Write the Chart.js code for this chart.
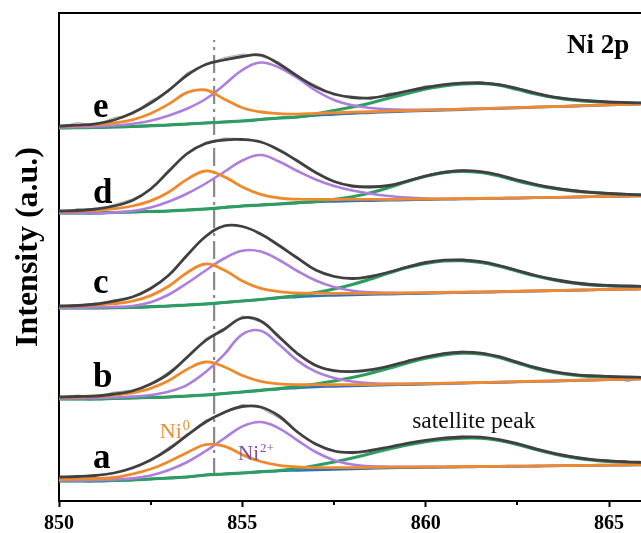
<!DOCTYPE html>
<html>
<head>
<meta charset="utf-8">
<script src="https://cdn.jsdelivr.net/npm/chart.js@4.4.0/dist/chart.umd.min.js"></script>
<style>
html,body{margin:0;padding:0;background:#fff;overflow:hidden;}
canvas{display:block;}
</style>
</head>
<body>
<canvas id="c" width="641" height="533"></canvas>
<script>
// Binding energy (eV)
const energy = [850,850.5,851,851.5,852,852.5,853,853.5,854,854.5,855,855.5,856,856.5,857,857.5,858,858.5,859,859.5,860,860.5,861,861.5,862,862.5,863,863.5,864,864.5,865,865.5,866];

// Sample a
const rawA = [22,25,26,27.5,34,40,54,65,81,87.5,96.5,93,83,70,56,51,47,51.5,53,58.7,59.7,63.8,65,62.8,62.4,56.4,53,46.7,45,41,41,38.5,39.5];
const fitA = [24,24.5,25.5,28,33,41,52,66,79,88.5,94.5,94,85,69,57,50,48.5,50.5,54,57.7,60.7,62.8,64,63.8,61.4,57.4,52.2,47.7,44.2,41.7,40.2,39.2,38.5];
const ni0A = [21.5,22,22.5,23.5,27,32,39.5,48.5,56.4,54.9,46.3,39.5,35.7,34.1,33.4,33.3,33.4,33.6,33.9,33.9,34,34.1,34.4,34.6,34.7,34.9,35,35.3,35.5,35.7,35.9,36.1,36.3];
const ni2A = [20.5,20.6,20.8,21.6,22.6,25.5,31,39,50,62.5,74.6,79,72.7,60.7,49,40.8,36.5,34.7,34.3,34.2,34.2,34.3,34.5,34.6,34.8,35,35.1,35.4,35.6,35.8,36,36.2,36.4];
const satA = [20,20,20,20.5,21,22,23,24,26,27,28,29.3,30.5,32.5,35.5,39,43,47.5,52,56,59.3,61.6,62.9,62.8,60.5,56.5,51.5,47,43.5,41,39.5,38.5,37.8];
const bgA  = [20,20,20,20.5,21,22,23,24,26,27,28,29,30,30.5,31,31.5,32,32.5,33,33.2,33.4,33.6,33.9,34.1,34.3,34.5,34.7,35,35.2,35.4,35.6,35.8,36];

// Sample b
const rawB = [103,106,104,109,111,116,129.5,143,162.5,173,185,179,166,146.5,136.5,129.3,130.4,132.1,133.9,140.7,143.1,148.4,149.8,146.9,145.3,137.8,134.3,128.3,127.7,124.3,125.5,119.5,124.6];
const fitB = [104,104.5,105,107,110,117,127.5,144,160.5,171.5,183,180,164,147.5,135.5,130.3,129.4,131.1,134.9,139.7,144.1,147.4,148.8,147.9,144.3,138.8,133.3,129.3,126.7,125.3,124.5,124,123.6];
const ni0B = [103.4,103.75,104.3,105.8,108.2,112.7,120.5,131.8,139,134.3,125.5,119.7,117.2,116.3,116.3,116.25,116.4,116.5,116.8,117,117.4,117.8,118.1,118.5,118.9,119.3,119.75,120.1,120.6,121,121.35,121.8,122.2];
const ni2B = [102.6,102.7,102.8,103.5,104.5,106,109.5,116.2,129,146.3,166.7,170.3,156.4,140.4,129.3,123,119.5,117.6,117.2,117.2,117.5,117.8,118.1,118.5,118.9,119.3,119.8,120.2,120.7,121.1,121.5,122,122.4];
const satB = [102,102,102,102.5,103,103.5,104,105,106,107.5,109,110.7,112.3,114.5,117,120,123.5,127.8,132.7,138,142.8,146.2,147.8,147,143.5,138,132.5,128.5,126,124.6,123.8,123.3,123];
const bgB  = [102,102,102,102.5,103,103.5,104,105,106,107.5,109,110.5,112,113,114,114.5,115,115.4,115.9,116.3,116.8,117.2,117.6,118.1,118.5,118.9,119.4,119.8,120.3,120.7,121.1,121.6,122];

// Sample c
const rawC = [195,196,197,201,204,213.5,226,247,265.5,276,275,267.5,255.5,244,231,225.5,222,225.5,229,235,239,241,242,239,235.5,230,226,221,219,216,216,215,215];
const fitC = [195,195.5,197,200,204,212.5,226,246,264.5,275,274.5,267,255.5,243,231,224.5,222.5,224.5,229,234,238.5,240.8,241,239.3,235.5,230.5,225.5,221.5,218.5,216.5,215.5,215,214.5];
const ni0C = [194.6,195.1,195.8,197.3,199.9,205.4,215,228.5,237,231,220,212.6,209.4,208,207.8,207.6,207.6,207.7,207.9,208.05,208.3,208.6,208.9,209.1,209.45,209.8,210.15,210.4,210.8,211.2,211.55,211.8,212.2];
const ni2C = [193.3,193.4,193.5,194.1,195,198.8,206.5,218,230.5,242.5,250.3,249.5,241,230,220.5,214,210.3,208.6,208.1,208,208.2,208.5,208.8,209,209.4,209.8,210.2,210.5,210.9,211.3,211.7,212,212.4];
const satC = [193,193,193,193.3,193.5,194.3,195,196,197,198.5,200,201.5,203.5,205.5,208.3,212,216.5,222,228,233.5,237.7,240,240.3,238.5,234.7,229.8,225,221,218,216.2,215.2,214.6,214.2];
const bgC  = [193,193,193,193.3,193.5,194.3,195,196,197,198.5,200,201.5,203,204,205,205.5,206,206.4,206.8,207.1,207.5,207.9,208.3,208.6,209,209.4,209.8,210.1,210.5,210.9,211.3,211.6,212];

// Sample d
const rawD = [287,292.5,291,296.5,302,311,331.5,348.5,359,363,362.5,360,350,341.5,327.5,320.5,313.5,315.5,314.5,321,326,330,331.3,328.3,327,320,317.5,312,311,308,308.5,306,306.5];
const fitD = [290,290.5,292,295,300.5,312,330,347.5,357.5,361,361.5,359,351,340,328.5,319.5,315,314,315.5,320,325,328.7,330.3,329.3,326,321,316.5,313,310.5,308.7,307.5,306.6,306];
const ni0D = [289.6,290,290.7,292.3,295,300.1,309,321.9,330,324.4,314,306.6,303,301.8,301.7,301.5,301.6,301.6,301.6,301.8,302,302.2,302.4,302.6,302.9,303.2,303.4,303.7,304.1,304.4,304.7,304.9,305.2];
const ni2D = [288,288,288,288.5,290,293.5,299.5,307.5,317.5,329,340.5,346,339.5,330,321.5,315,310.5,307.3,305,303.4,302.5,302.2,302.2,302.4,302.7,303,303.3,303.6,304,304.3,304.6,304.9,305.2];
const satD = [288,288,288,288.5,289,289.5,290,291,292,293.5,295,296,297,298.3,299.6,301.5,304.2,308.2,313.5,319.5,324.8,328.3,329.6,328.5,325,320,315.7,312.5,310.2,308.6,307.4,306.5,305.8];
const bgD  = [288,288,288,288.5,289,289.5,290,291,292,293.5,295,296,297,298,299,299.5,300,300.3,300.6,300.9,301.3,301.6,301.9,302.2,302.5,302.8,303.1,303.4,303.8,304.1,304.4,304.7,305];

// Sample e
const rawE = [374,378.5,376,383.5,386.5,400.5,409.5,428.5,436,443.5,447,444.5,439,424,416,405.5,405,401.5,408,409,415.5,415.5,419,419.5,415.5,413.5,406.5,404.5,400.7,401.1,398,399.4,397];
const fitE = [375,375.8,377.2,381,388,398,411,426,436.5,441,444.5,446,437,425,414,407,403.5,403,406,410,413.5,416.3,417.8,418,416.3,412.5,407.8,403.8,401.7,400.1,399,398.4,397.9];
const ni0E = [374.6,375.3,376.2,378.1,381.1,387.5,397.1,408.6,411,402.1,393.3,389,387.4,386.9,387.7,388.2,388.8,389.25,389.9,390.4,390.8,391.3,391.85,392.4,392.85,393.4,394,394.45,395,395.6,396.2,396.7,397.2];
const ni2E = [373.6,374,374.5,375.5,377.3,380.3,385.5,392.5,402,416,431,438.5,433.5,423,410.5,401,395.7,393,391.6,391.2,391.2,391.6,392,392.5,392.9,393.5,394,394.5,395.1,395.65,396.25,396.7,397.3];
const satE = [373,373.3,373.5,374,374.5,375.3,376,377,378,379,380,381.5,383,384,387,390.5,394,398,403,407.5,412,415,417,417.6,415.8,411.5,407,403.5,401,399.5,398.5,398,397.5];
const bgE  = [373,373.3,373.5,374,374.5,375.3,376,377,378,379,380,381.5,383,384,385.5,386.5,387.5,388.2,389,389.6,390.1,390.7,391.3,391.9,392.4,393,393.6,394.1,394.7,395.3,395.9,396.4,397];

// Reference line (Ni0 position) and axis ticks
const refEnergy = 854.23;
const refSpan = [25, 461];
const xTicks = [850, 855, 860, 865];
const minorTicks = [852.5, 857.5, 862.5];
const sampleNames = ['a', 'b', 'c', 'd', 'e'];
const yTitle = 'Intensity (a.u.)';

const samples = [
  {raw: rawA, fit: fitA, ni0: ni0A, ni2: ni2A, sat: satA, bg: bgA},
  {raw: rawB, fit: fitB, ni0: ni0B, ni2: ni2B, sat: satB, bg: bgB},
  {raw: rawC, fit: fitC, ni0: ni0C, ni2: ni2C, sat: satC, bg: bgC},
  {raw: rawD, fit: fitD, ni0: ni0D, ni2: ni2D, sat: satD, bg: bgD},
  {raw: rawE, fit: fitE, ni0: ni0E, ni2: ni2E, sat: satE, bg: bgE}
];

const STYLE = {
  raw: {color: '#b0b0b0', width: 1.2, order: 6, tension: 0},
  bg:  {color: '#2a72c2', width: 2.4, order: 5, tension: 0.4},
  sat: {color: '#2f9d62', width: 3.2, order: 4, tension: 0.4},
  ni2: {color: '#ad7edb', width: 2.6, order: 3, tension: 0.4},
  ni0: {color: '#ee8a2b', width: 2.8, order: 2, tension: 0.4},
  fit: {color: '#404040', width: 2.8, order: 1, tension: 0.4}
};

const toXY = arr => energy.map((e, i) => ({x: e, y: arr[i]}));

const datasets = [];
samples.forEach((s, k) => {
  ['raw', 'bg', 'sat', 'ni2', 'ni0', 'fit'].forEach(key => {
    const st = STYLE[key];
    datasets.push({
      label: sampleNames[k] + '-' + key,
      data: toXY(s[key]),
      borderColor: st.color,
      borderWidth: st.width,
      pointRadius: 0,
      fill: false,
      order: st.order,
      tension: st.tension,
      xAxisID: 'x',
      yAxisID: 'y'
    });
  });
});
datasets.push({
  label: 'Ni0 position',
  data: [{x: refEnergy, y: refSpan[0]}, {x: refEnergy, y: refSpan[1]}],
  borderColor: '#8a8a8a',
  borderWidth: 2.2,
  borderDash: [18, 5, 3, 5],
  pointRadius: 0,
  order: 7,
  xAxisID: 'x',
  yAxisID: 'y'
});

const SERIF = '"Liberation Serif", "Times New Roman", serif';

const annot = {
  id: 'annot',
  afterDraw(chart) {
    const {ctx} = chart;
    const x = chart.scales.x, y = chart.scales.y;
    const P = (e, v) => [x.getPixelForValue(e), y.getPixelForValue(v)];
    ctx.save();
    // minor ticks
    ctx.strokeStyle = '#000';
    ctx.lineWidth = 2;
    const yb = chart.chartArea.bottom;
    minorTicks.forEach(v => {
      const px = Math.round(x.getPixelForValue(v));
      ctx.beginPath();
      ctx.moveTo(px, yb);
      ctx.lineTo(px, yb + 4);
      ctx.stroke();
    });
    // y-axis title
    ctx.save();
    ctx.translate(37, 247);
    ctx.rotate(-Math.PI / 2);
    ctx.fillStyle = '#000';
    ctx.font = 'bold 32px ' + SERIF;
    ctx.textAlign = 'center';
    ctx.textBaseline = 'alphabetic';
    ctx.fillText(yTitle, 0, 0);
    ctx.restore();

    ctx.textBaseline = 'alphabetic';
    ctx.textAlign = 'left';
    // sample letters
    const letterAt = [33, 114, 208, 298, 384];
    ctx.fillStyle = '#000';
    ctx.font = 'bold 35px ' + SERIF;
    sampleNames.forEach((n, i) => {
      const [px, py] = P(850.93, letterAt[i]);
      ctx.fillText(n, px, py);
    });
    // Ni 2p
    ctx.font = 'bold 27px ' + SERIF;
    let [px, py] = P(863.85, 448);
    ctx.fillText('Ni 2p', px, py);
    // superscript labels
    const sup = (base, s, e, v, color, size) => {
      const [qx, qy] = P(e, v);
      ctx.fillStyle = color;
      ctx.font = size + 'px ' + SERIF;
      ctx.fillText(base, qx, qy);
      const w = ctx.measureText(base).width;
      ctx.font = Math.round(size * 0.62) + 'px ' + SERIF;
      ctx.fillText(s, qx + w + 1, qy - size * 0.36);
    };
    sup('Ni', '0', 852.75, 63, '#e8913a', 22);
    sup('Ni', '2+', 854.88, 41, '#7d4f9e', 21);
    // satellite peak
    ctx.fillStyle = '#111';
    ctx.font = '23.5px ' + SERIF;
    [px, py] = P(859.63, 73);
    ctx.fillText('satellite peak', px, py);
    ctx.restore();
  }
};

new Chart(document.getElementById('c').getContext('2d'), {
  type: 'line',
  data: {datasets},
  options: {
    responsive: false,
    animation: false,
    devicePixelRatio: 1,
    layout: {padding: 0},
    plugins: {legend: {display: false}, tooltip: {enabled: false}, title: {display: false}},
    elements: {point: {radius: 0}},
    scales: {
      x: {
        type: 'linear', position: 'bottom', min: 850, max: 865.87,
        afterFit: s => { s.height = 32; },
        afterBuildTicks: s => { s.ticks = xTicks.map(v => ({value: v})); },
        ticks: {font: {family: SERIF, size: 20, weight: 'bold'}, color: '#000', padding: 5, maxRotation: 0, autoSkip: false},
        grid: {drawOnChartArea: false, drawTicks: true, tickLength: 6, tickWidth: 2, tickColor: '#000'},
        border: {display: true, color: '#000', width: 2}
      },
      xTop: {
        type: 'linear', position: 'top', min: 850, max: 865.87,
        afterFit: s => { s.height = 13; },
        ticks: {display: false},
        grid: {drawOnChartArea: false, drawTicks: false},
        border: {display: true, color: '#000', width: 2}
      },
      y: {
        type: 'linear', position: 'left', min: 0, max: 488,
        afterFit: s => { s.width = 59; },
        ticks: {display: false},
        grid: {drawOnChartArea: false, drawTicks: false},
        border: {display: true, color: '#000', width: 2},
        title: {display: false, text: yTitle}
      }
    }
  },
  plugins: [annot]
});
</script>
</body>
</html>
